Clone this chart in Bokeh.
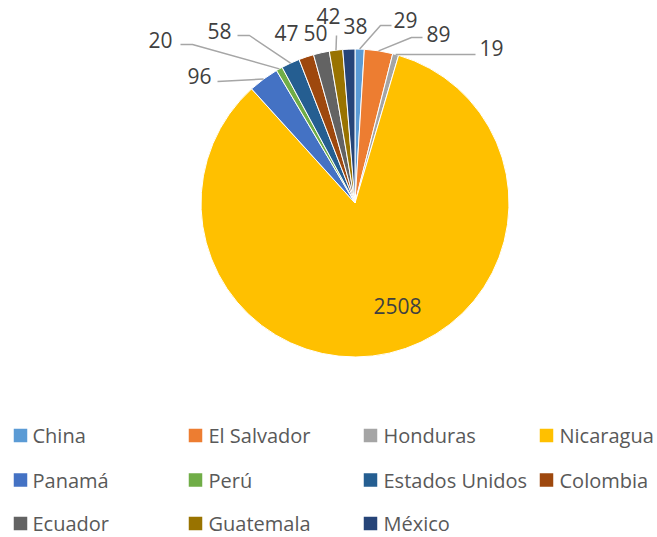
import math
from bokeh.plotting import figure
from bokeh.models import Range1d
from bokeh.core.properties import value
from bokeh.embed import file_html
from bokeh.resources import INLINE

# ---- data ----
countries = ["China", "El Salvador", "Honduras", "Nicaragua", "Panamá", "Perú",
             "Estados Unidos", "Colombia", "Ecuador", "Guatemala", "México"]
counts = [29, 89, 19, 2508, 96, 20, 58, 47, 50, 42, 38]
colors = ["#5B9BD5", "#ED7D31", "#A5A5A5", "#FFC000", "#4472C4", "#70AD47",
          "#255E91", "#9E480E", "#636363", "#997300", "#264478"]

# ---- layout (reference pixel coordinates) ----
W, H = 657, 537
CX, CY, R = 354.5, 202.5, 154
# label positions (center x, visual center y of digits)
label_pos = [(405, 19.5), (438, 33.5), (491, 47.5), (397, 305), (199, 75.5), (160, 39.5),
             (219, 30), (286, 32.5), (315, 32.5), (328, 15), (355, 25.5)]
# leader line points near the label (None = no leader)
leader_pts = [[(391, 25), (380, 25)], [(422, 37), (411, 37)], [(475, 54)], None,
              [(217, 81)], [(180, 44), (192, 44)], [(237, 35), (249, 35)],
              None, None, [(336, 35)], None]
leg_sq_x = [20, 195, 370, 546]
leg_tx_x = [32, 208, 383, 559]
leg_row_y = [435, 479.5, 523]

p = figure(width=W, height=H, output_backend="svg", toolbar_location=None,
           x_range=Range1d(0, W), y_range=Range1d(-H, 0),
           min_border=0)
p.axis.visible = False
p.grid.visible = False
p.outline_line_color = None
p.background_fill_color = "white"
p.border_fill_color = "white"

total = sum(counts)
starts, ends, mids = [], [], []
cum = 0
for c in counts:
    a0 = math.pi / 2 - 2 * math.pi * cum / total
    cum += c
    a1 = math.pi / 2 - 2 * math.pi * cum / total
    starts.append(a0)
    ends.append(a1)
    mids.append((a0 + a1) / 2)

p.wedge(x=CX, y=-CY, radius=R, start_angle=starts, end_angle=ends,
        direction="clock", fill_color=colors, line_color="white", line_width=1)

# leader lines
xs, ys = [], []
for i, pts in enumerate(leader_pts):
    if pts is None:
        continue
    ex = CX + R * math.cos(mids[i])
    ey = CY - R * math.sin(mids[i])
    xs.append([q[0] for q in pts] + [ex])
    ys.append([-q[1] for q in pts] + [-ey])
p.multi_line(xs=xs, ys=ys, line_color="#A6A6A6", line_width=1.5)

# data labels
p.text(x=[q[0] for q in label_pos], y=[-q[1] for q in label_pos],
       text=[str(c) for c in counts], text_font=value("Open Sans"),
       text_font_size="21px", text_color="#404040", text_align="center",
       text_baseline="middle")

# legend
sx, sy, tx, ty = [], [], [], []
for i, name in enumerate(countries):
    row, col = divmod(i, 4)
    sx.append(leg_sq_x[col])
    sy.append(-leg_row_y[row])
    tx.append(leg_tx_x[col])
    ty.append(-leg_row_y[row])
p.rect(x=sx, y=sy, width=13.5, height=13.5, fill_color=colors, line_color=None)
p.text(x=tx, y=ty, text=countries, text_font=value("Open Sans"),
       text_font_size="20px", text_color="#595959", text_align="left",
       text_baseline="middle", text_line_height=1.0)

open("out.html", "w").write(file_html(p, INLINE))
